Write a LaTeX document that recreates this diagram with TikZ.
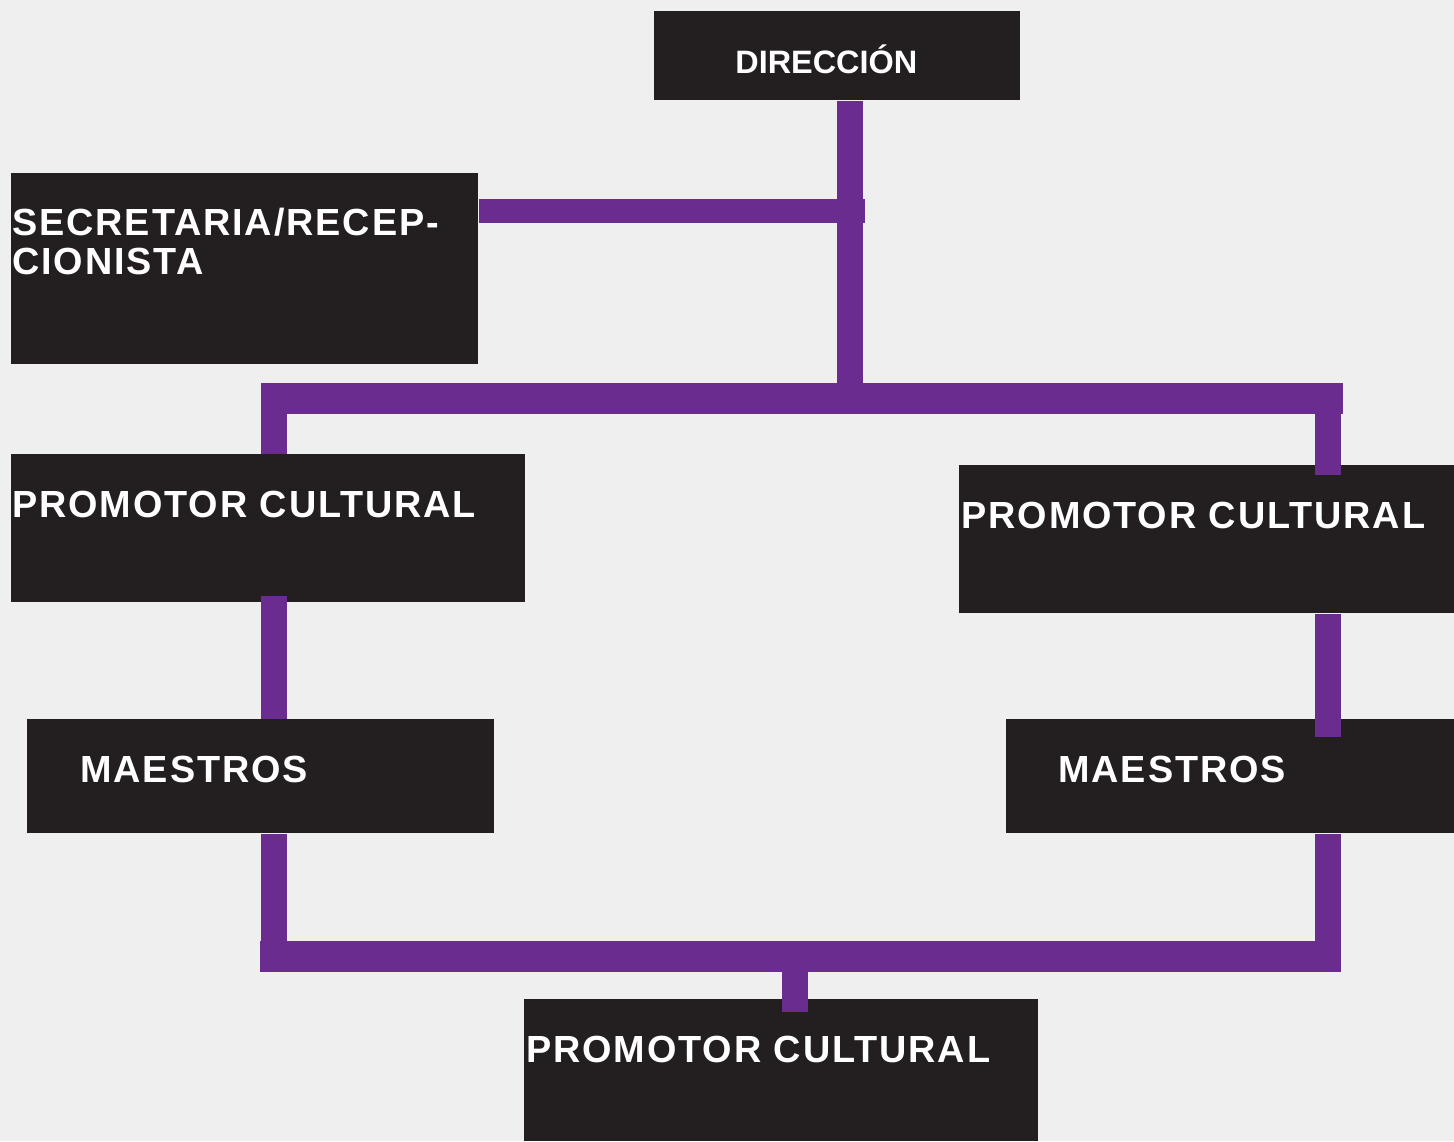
\documentclass[tikz,border=0pt]{standalone}
\usepackage{fontspec}
\setmainfont{Liberation Sans}
\newfontfamily\boxfont[LetterSpace=5]{Liberation Sans}
\usetikzlibrary{calc}
\definecolor{bg}{HTML}{EFEFEF}
\definecolor{boxc}{HTML}{231F20}
\definecolor{busc}{HTML}{6A2C8E}
\tikzset{
  box/.style={fill=boxc, draw=none, inner sep=0pt, anchor=north west},
  lbl/.style={text=white, inner sep=0pt, anchor=base west, font=\boxfont\bfseries\fontsize{18.9}{19.5}\selectfont},
  bus/.style={draw=busc, line width=13pt, line cap=butt, line join=miter},
  hbus/.style={draw=busc, line width=15.5pt, line cap=butt},
}
\begin{document}
\begin{tikzpicture}[x=0.5pt,y=-0.5pt]
\fill[bg] (0,0) rectangle (1454,1141);
\useasboundingbox (0,0) rectangle (1454,1141);
% boxes
\node[box, minimum width=183pt, minimum height=44.5pt] (dir) at (654,11) {};
\node[box, minimum width=233.5pt, minimum height=95.5pt] (secr) at (11,173) {};
\node[box, minimum width=257pt, minimum height=74pt] (pcl) at (11,454) {};
\node[box, minimum width=247.5pt, minimum height=74pt] (pcr) at (959,465) {};
\node[box, minimum width=233.5pt, minimum height=57pt] (mal) at (27,719) {};
\node[box, minimum width=224pt, minimum height=57pt] (mar) at (1006,719) {};
\node[box, minimum width=257pt, minimum height=71pt] (pcb) at (524,999) {};
% junction coordinates
\coordinate (xL) at (274,0);
\coordinate (xR) at (1328,0);
\coordinate (topbus) at (850,398.5);
\coordinate (secj) at (865,211);
\coordinate (botbus) at (794.5,956.5);
% connectors
\draw[bus] (topbus |- dir.south) -- (topbus);
\draw[bus, line width=12pt] (secr.east |- secj) -- (secj);
\draw[bus] (xL |- pcl.north) -- (xL |- topbus);
\draw[bus] (xR |- topbus) -- ($(xR |- pcr.north)+(0,10)$);
\draw[hbus] ($(xL |- topbus)+(-13,0)$) -- ($(xR |- topbus)+(15,0)$);
\draw[bus] ($(xL |- pcl.south)+(0,-7)$) -- (xL |- mal.north);
\draw[bus] (xR |- pcr.south) -- ($(xR |- mar.north)+(0,18)$);
\draw[bus] (xL |- mal.south) -- (xL |- botbus);
\draw[bus] (xR |- mar.south) -- (xR |- botbus);
\draw[hbus] ($(xL |- botbus)+(-14,0)$) -- ($(xR |- botbus)+(12.5,0)$);
\draw[bus] (botbus) -- ($(botbus |- pcb.north)+(0,13)$);
% labels
\node[lbl, font=\bfseries\fontsize{16.2}{18}\selectfont] (tdir) at (735,73) {DIRECCIÓN};
\node[lbl, align=left] (tsecr) at (12,274) {SECRETARIA/RECEP-\\CIONISTA};
\node[lbl] (tpcl) at (12,517) {PROMOTOR CULTURAL};
\node[lbl] (tpcr) at (961,528) {PROMOTOR CULTURAL};
\node[lbl] (tmal) at (80,782) {MAESTROS};
\node[lbl] (tmar) at (1058,782) {MAESTROS};
\node[lbl] (tpcb) at (526,1062) {PROMOTOR CULTURAL};
\end{tikzpicture}
\end{document}
